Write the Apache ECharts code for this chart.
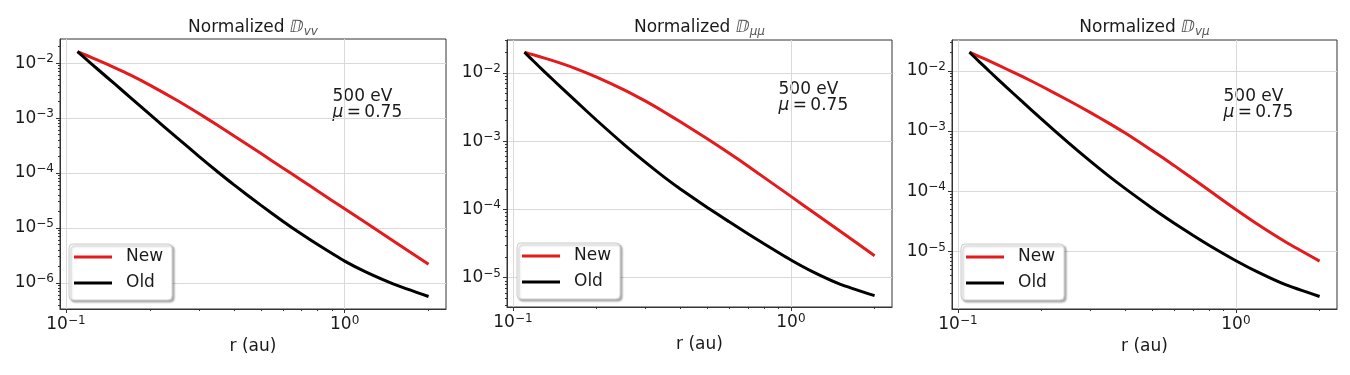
<!DOCTYPE html>
<html>
<head>
<meta charset="utf-8">
<title>Normalized diffusion coefficients</title>
<script src="https://cdn.jsdelivr.net/npm/echarts@6/dist/echarts.min.js"></script>
<style>
  html, body { margin: 0; padding: 0; background: #fff; }
  #chart { width: 1350px; height: 375px; }
</style>
</head>
<body>
<div id="chart"></div>
<script>
// radial distance r (au), shared by all curves
var rValues = [0.11, 0.12, 0.13, 0.15, 0.17, 0.2, 0.25, 0.3, 0.35, 0.4, 0.5, 0.6, 0.7, 0.8, 1.0, 1.2, 1.5, 2.0];

// normalized D_vv
var dvvNew = [1.62e-2, 1.349e-2, 1.135e-2, 8.22e-3, 6.10e-3, 3.98e-3, 2.11e-3, 1.21e-3, 7.40e-4, 4.78e-4, 2.28e-4, 1.236e-4, 7.38e-5, 4.72e-5, 2.23e-5, 1.213e-5, 5.74e-6, 2.19e-6];
var dvvOld = [1.62e-2, 1.104e-2, 7.74e-3, 4.13e-3, 2.39e-3, 1.164e-3, 4.41e-4, 2.014e-4, 1.054e-4, 6.14e-5, 2.60e-5, 1.327e-5, 7.73e-6, 4.98e-6, 2.49e-6, 1.552e-6, 9.51e-7, 5.66e-7];

// normalized D_mumu
var dmmNew = [1.995e-2, 1.803e-2, 1.637e-2, 1.361e-2, 1.135e-2, 8.67e-3, 5.68e-3, 3.84e-3, 2.67e-3, 1.914e-3, 1.084e-3, 6.64e-4, 4.31e-4, 2.94e-4, 1.549e-4, 9.16e-5, 4.82e-5, 2.10e-5];
var dmmOld = [1.995e-2, 1.413e-2, 1.030e-2, 5.96e-3, 3.71e-3, 2.018e-3, 9.04e-4, 4.88e-4, 2.97e-4, 1.991e-4, 1.064e-4, 6.58e-5, 4.41e-5, 3.13e-5, 1.811e-5, 1.213e-5, 8.04e-6, 5.45e-6];

// normalized D_vmu
var dvmNew = [2.03e-2, 1.706e-2, 1.442e-2, 1.059e-2, 8.07e-3, 5.53e-3, 3.21e-3, 2.018e-3, 1.340e-3, 9.23e-4, 4.72e-4, 2.66e-4, 1.611e-4, 1.038e-4, 4.97e-5, 2.80e-5, 1.466e-5, 6.93e-6];
var dvmOld = [2.03e-2, 1.380e-2, 9.72e-3, 5.26e-3, 3.10e-3, 1.570e-3, 6.35e-4, 3.13e-4, 1.766e-4, 1.107e-4, 5.24e-5, 2.95e-5, 1.858e-5, 1.271e-5, 7.03e-6, 4.54e-6, 2.84e-6, 1.79e-6];

// tick values
var xMajorTicks = [0.1, 1];
var xMinorTicks = [0.2, 0.3, 0.4, 0.5, 0.6, 0.7, 0.8, 0.9, 2];
var yMajorTicksVV = [1e-6, 1e-5, 1e-4, 1e-3, 1e-2];
var yMajorTicksMM = [1e-5, 1e-4, 1e-3, 1e-2];
var yMajorTicksVM = [1e-5, 1e-4, 1e-3, 1e-2];

var font = 'DejaVu Sans';
var ink = '#1a1a1a';
var spine = '#333333';
var xMin = 0.0952, xMax = 2.31;

var panels = [
  { sub: 'vv', grid: [60, 39, 386, 270], yMin: 3.35e-7, yMax: 2.75e-2, yMajor: yMajorTicksVV,
    newData: dvvNew, oldData: dvvOld, legend: [69, 244], note: [332.5, 96.5] },
  { sub: '\u03bc\u03bc', grid: [507, 40, 385, 267], yMin: 3.72e-6, yMax: 3.02e-2, yMajor: yMajorTicksMM,
    newData: dmmNew, oldData: dmmOld, legend: [517, 243], note: [778.5, 89.5] },
  { sub: 'v\u03bc', grid: [952, 40, 385, 269], yMin: 1.11e-6, yMax: 3.24e-2, yMajor: yMajorTicksVM,
    newData: dvmNew, oldData: dvmOld, legend: [961, 244], note: [1223.5, 96.5] }
];

function powLabel(v) {
  var e = Math.round(Math.log10(v));
  return '{b|10}{s|' + (e < 0 ? '\u2212' + (-e) : e) + '}';
}
var powRich = {
  b: { fontFamily: font, fontSize: 17, lineHeight: 20, color: ink },
  s: { fontFamily: font, fontSize: 12, lineHeight: 12, verticalAlign: 'top', color: ink }
};

// minor ticks 2..9 x 10^k inside the axis range
function minorTicks(lo, hi) {
  var out = [];
  for (var k = -8; k <= 0; k++) {
    for (var m = 2; m <= 9; m++) {
      var v = m * Math.pow(10, k);
      if (v > lo && v < hi) out.push(v);
    }
  }
  return out;
}

function pairs(ys) {
  return rValues.map(function (r, i) { return [r, ys[i]]; });
}

var grids = [], xAxes = [], yAxes = [], series = [], titles = [], legends = [], graphics = [];

panels.forEach(function (p, i) {
  grids.push({
    left: p.grid[0], top: p.grid[1], width: p.grid[2], height: p.grid[3],
    show: true, borderColor: spine, borderWidth: 1, outerBoundsMode: 'none'
  });

  xAxes.push({
    type: 'log', gridIndex: i, min: xMin, max: xMax, position: 'bottom',
    axisLine: { show: true, lineStyle: { color: spine, width: 1 } },
    axisTick: { customValues: xMajorTicks, length: 4, lineStyle: { color: spine } },
    axisLabel: { customValues: xMajorTicks, formatter: powLabel, rich: powRich, margin: 6 },
    splitLine: { show: true, lineStyle: { color: '#d9d9d9', width: 1 } },
    name: 'r (au)', nameLocation: 'middle', nameGap: 27,
    nameTextStyle: { fontFamily: font, fontSize: 17, color: ink }
  });
  xAxes.push({
    type: 'log', gridIndex: i, min: xMin, max: xMax, position: 'bottom',
    axisLine: { show: false },
    axisTick: { customValues: xMinorTicks, length: 2, lineStyle: { color: spine } },
    axisLabel: { show: false }, splitLine: { show: false }
  });

  yAxes.push({
    type: 'log', gridIndex: i, min: p.yMin, max: p.yMax, position: 'left',
    axisLine: { show: true, lineStyle: { color: spine, width: 1 } },
    axisTick: { customValues: p.yMajor, length: 4, lineStyle: { color: spine } },
    axisLabel: { customValues: p.yMajor, formatter: powLabel, rich: powRich, margin: 6 },
    splitLine: { show: true, lineStyle: { color: '#d9d9d9', width: 1 } }
  });
  yAxes.push({
    type: 'log', gridIndex: i, min: p.yMin, max: p.yMax, position: 'left',
    axisLine: { show: false },
    axisTick: { customValues: minorTicks(p.yMin, p.yMax), length: 2, lineStyle: { color: spine } },
    axisLabel: { show: false }, splitLine: { show: false }
  });

  series.push({
    name: 'New', type: 'line', xAxisIndex: 2 * i, yAxisIndex: 2 * i,
    data: pairs(p.newData), symbol: 'none', smooth: 0.2,
    itemStyle: { color: '#e41a1c' }, lineStyle: { color: '#e41a1c', width: 3 }
  });
  series.push({
    name: 'Old', type: 'line', xAxisIndex: 2 * i, yAxisIndex: 2 * i,
    data: pairs(p.oldData), symbol: 'none', smooth: 0.2,
    itemStyle: { color: '#000000' }, lineStyle: { color: '#000000', width: 3 }
  });

  titles.push({
    left: p.grid[0] + p.grid[2] / 2, top: 28, padding: 0,
    textAlign: 'center', textVerticalAlign: 'middle',
    text: '{t|Normalized }{d|\u2145}{u|' + p.sub + '}',
    textStyle: {
      fontWeight: 'normal',
      rich: {
        t: { fontFamily: font, fontSize: 17, fontWeight: 'normal', lineHeight: 20, color: ink },
        d: { fontFamily: font, fontSize: 17, fontWeight: 'normal', lineHeight: 20, color: '#555555' },
        u: { fontFamily: font, fontSize: 12, fontWeight: 'normal', lineHeight: 12, fontStyle: 'italic', verticalAlign: 'bottom', color: '#555555' }
      }
    }
  });

  legends.push({
    left: p.legend[0], top: p.legend[1], orient: 'vertical', data: ['New', 'Old'],
    icon: 'rect', itemWidth: 38, itemHeight: 3, itemGap: 6, padding: [3, 9, 7, 5],
    backgroundColor: '#ffffff', borderColor: '#cccccc', borderWidth: 1, borderRadius: 4,
    shadowColor: 'rgba(0,0,0,0.3)', shadowBlur: 2, shadowOffsetX: 2, shadowOffsetY: 2,
    selectedMode: false,
    textStyle: { fontFamily: font, fontSize: 17, lineHeight: 20, color: ink, padding: [0, 0, 0, 9] }
  });

  graphics.push({
    type: 'text', x: p.note[0], y: p.note[1],
    style: { text: '500 eV', fontFamily: font, fontSize: 17, fill: ink, verticalAlign: 'middle' }
  });
  graphics.push({
    type: 'text', x: p.note[0], y: p.note[1] + 16.5,
    style: {
      text: '{i|\u03bc}\u2009=\u20090.75', fontFamily: font, fontSize: 17, fill: ink, verticalAlign: 'middle',
      rich: { i: { fontFamily: font, fontSize: 17, fontStyle: 'italic', fill: ink } }
    }
  });
});

var myChart = echarts.init(document.getElementById('chart'), null, { renderer: 'canvas' });
myChart.setOption({
  backgroundColor: '#ffffff',
  animation: false,
  title: titles,
  legend: legends,
  grid: grids,
  xAxis: xAxes,
  yAxis: yAxes,
  series: series,
  graphic: graphics
});
</script>
</body>
</html>
